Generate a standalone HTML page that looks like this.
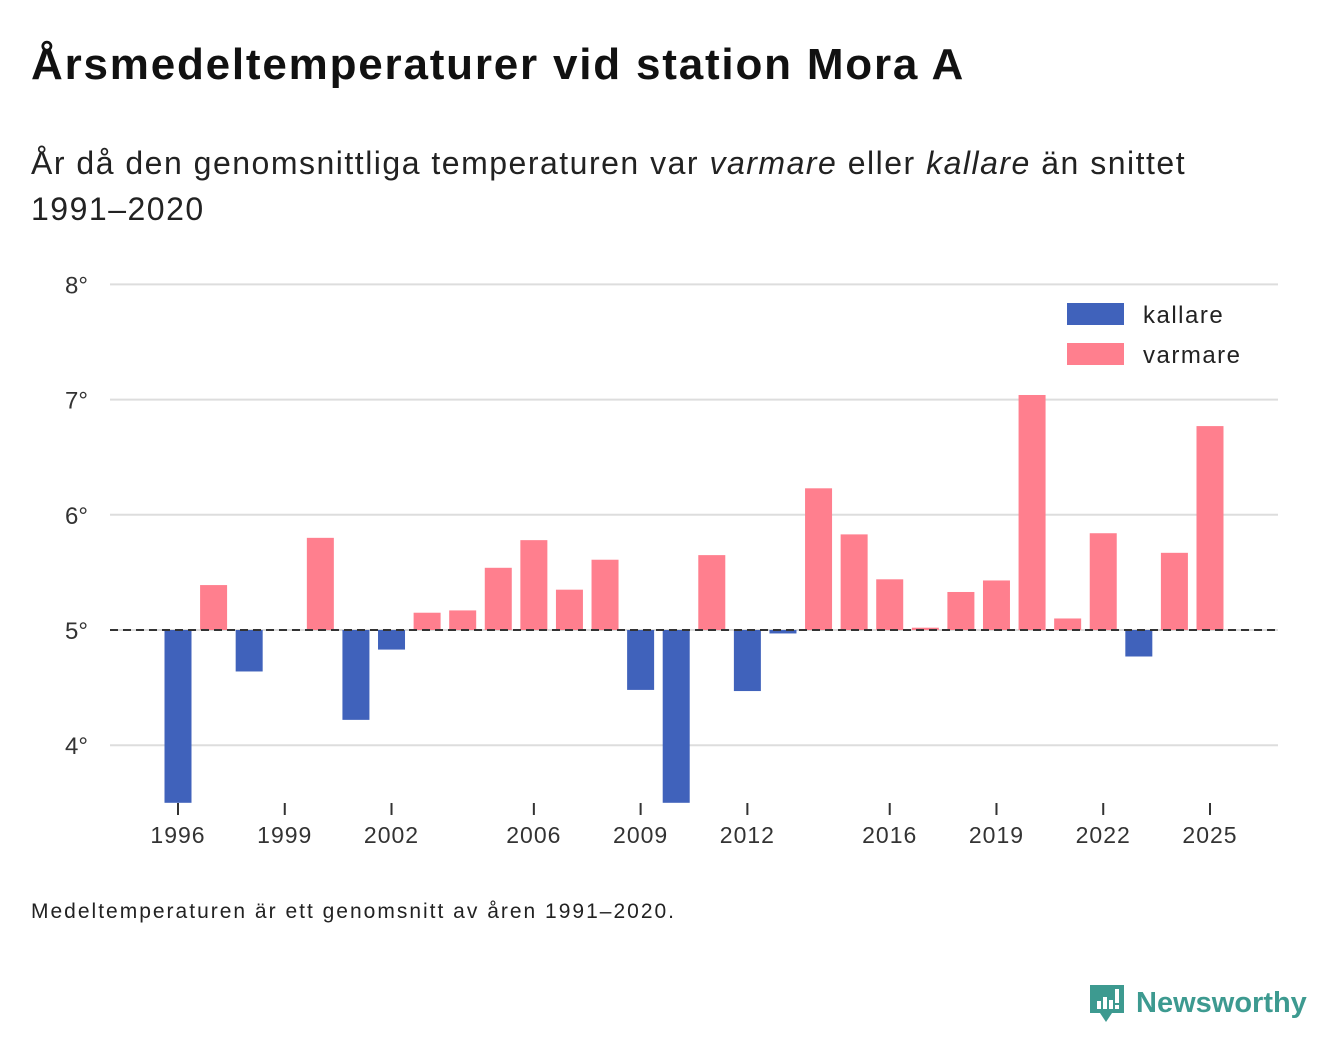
<!DOCTYPE html>
<html><head><meta charset="utf-8"><style>
body{margin:0;width:1340px;height:1056px;background:#fff;font-family:"Liberation Sans",sans-serif;color:#111;position:relative;overflow:hidden}
.t{position:absolute;left:31px;top:40px;font-size:44px;letter-spacing:1.8px;font-weight:bold;margin:0}
.s{position:absolute;left:31px;top:140px;font-size:32px;letter-spacing:1.5px;line-height:46px;color:#222;margin:0;width:1180px}
.f{position:absolute;left:31px;top:900px;font-size:21px;letter-spacing:2px;color:#222}
.logo{position:absolute;left:1088px;top:983px}
</style></head><body>
<h1 class="t">Årsmedeltemperaturer vid station Mora A</h1>
<p class="s">År då den genomsnittliga temperaturen var <i>varmare</i> eller <i>kallare</i> än snittet 1991–2020</p>
<svg id="chart" width="1340" height="1056" style="position:absolute;left:0;top:0"></svg>
<div class="f">Medeltemperaturen är ett genomsnitt av åren 1991–2020.</div>
<div class="logo">
<svg width="230" height="45"><path d="M2 2h34v28h-12l-6 9-6-9H2z" fill="#3d9a90"/><rect x="9" y="18" width="4" height="8" fill="#fff"/><rect x="15" y="14" width="4" height="12" fill="#fff"/><rect x="21" y="17" width="4" height="9" fill="#fff"/><rect x="27" y="6" width="4" height="14" fill="#fff"/><rect x="27" y="22" width="4" height="4" fill="#fff"/>
<text x="48" y="29" font-size="29" font-weight="bold" fill="#3d9a90" font-family="Liberation Sans, sans-serif">Newsworthy</text></svg></div>
<script>
const years=[1996,1997,1998,1999,2000,2001,2002,2003,2004,2005,2006,2007,2008,2009,2010,2011,2012,2013,2014,2015,2016,2017,2018,2019,2020,2021,2022,2023,2024,2025];
const temps=[3.50,5.39,4.64,5.0,5.80,4.22,4.83,5.15,5.17,5.54,5.78,5.35,5.61,4.48,3.50,5.65,4.47,4.97,6.23,5.83,5.44,5.02,5.33,5.43,7.04,5.10,5.84,4.77,5.67,6.77];
const yTicks=[4,5,6,7,8];
const xTicks=[1996,1999,2002,2006,2009,2012,2016,2019,2022,2025];
const base=5;
const ns="http://www.w3.org/2000/svg";
const svg=document.getElementById('chart');
const y=v=>630-(v-5)*115.2;
const x=yr=>178+(yr-1996)*35.586;
function el(t,a){const e=document.createElementNS(ns,t);for(const k in a)e.setAttribute(k,a[k]);svg.appendChild(e);return e;}
yTicks.forEach(t=>{
 const g=el('line',{x1:110,x2:1278,y1:y(t),y2:y(t),stroke:'#ddd','stroke-width':2});
 
 
 const l=el('text',{x:88,y:y(t)+9,'text-anchor':'end','font-size':24,fill:'#333'});
 l.textContent=t+'°';
 
 
});
const ymin=3.5;
years.forEach((yr,i)=>{
 const v=Math.max(temps[i],ymin);
 const top=Math.min(y(v),y(base)),h=Math.abs(y(v)-y(base));
 const r=el('rect',{x:x(yr)-13.5,y:top,width:27,height:h,fill:temps[i]<base?'#4062bb':'#ff7f8e'});
 
 
});
const d=el('line',{x1:110,x2:1278,y1:y(base),y2:y(base),stroke:'#333','stroke-width':2,'stroke-dasharray':'8,5'});


xTicks.forEach(t=>{
 const tk=el('line',{x1:x(t),x2:x(t),y1:803,y2:815,stroke:'#333','stroke-width':2});
 
 
 const l=el('text',{x:x(t),y:843,'text-anchor':'middle','font-size':23,'letter-spacing':1,fill:'#333'});
 l.textContent=t;
 
 
});
[['kallare','#4062bb',303],['varmare','#ff7f8e',343]].forEach(([n,c,yy])=>{
 const r=el('rect',{x:1067,y:yy,width:57,height:22,fill:c});
 
 
 const l=el('text',{x:1143,y:yy+20,'font-size':24,'letter-spacing':1.5,fill:'#222'});
 l.textContent=n;
 
 
});
</script>
</body></html>
